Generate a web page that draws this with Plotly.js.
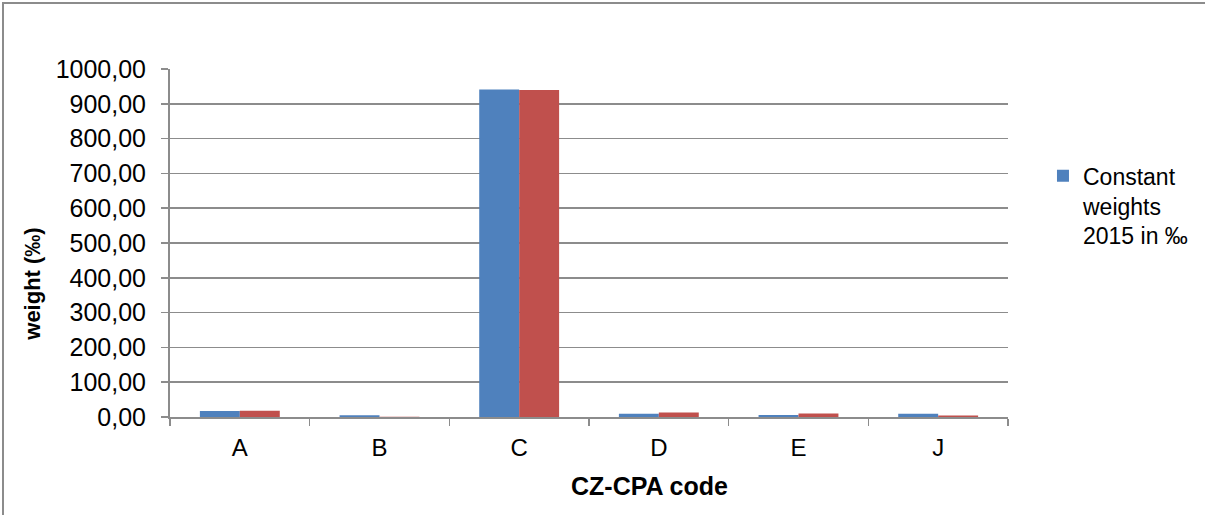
<!DOCTYPE html>
<html>
<head>
<meta charset="utf-8">
<script src="https://cdn.plot.ly/plotly-3.0.1.min.js"></script>
<style>
  html, body { margin: 0; padding: 0; width: 1205px; height: 515px; overflow: hidden; background: #fff; }
  #topline { position: absolute; left: 2px; top: 2px; width: 1250px; height: 2px; background: #8c8c8c; }
  #leftline { position: absolute; left: 2px; top: 2px; width: 2px; height: 560px; background: #8c8c8c; }
  #chart { position: absolute; left: 0; top: 0; width: 1205px; height: 515px; }
</style>
</head>
<body>
<div id="topline"></div>
<div id="leftline"></div>
<div id="chart"></div>
<script>
// Data
const categories = ["A", "B", "C", "D", "E", "J"];
const constantWeights2015 = [17, 5, 941, 9, 6, 9];
const secondSeries = [18, 1, 940, 13, 10, 4];
const seriesName = "Constant<br>weights<br>2015 in ‰";
const yTickValues = [0, 100, 200, 300, 400, 500, 600, 700, 800, 900, 1000];
const xTitle = "CZ-CPA code";
const yTitle = "weight (‰)";

const fontFamily = "Liberation Sans, Arial, sans-serif";
const gridColor = "#8c8c8c";

const traces = [
  {
    type: "bar",
    x: categories,
    y: constantWeights2015,
    name: seriesName,
    marker: { color: "#4F81BD", line: { width: 0 } },
    showlegend: true,
    hoverinfo: "x+y"
  },
  {
    type: "bar",
    x: categories,
    y: secondSeries,
    name: "",
    marker: { color: "#C0504D", line: { width: 0 } },
    showlegend: false,
    hoverinfo: "x+y"
  }
];

const layout = {
  width: 1205,
  height: 515,
  margin: { l: 170, r: 196, t: 69, b: 98, pad: 0 },
  paper_bgcolor: "rgba(0,0,0,0)",
  plot_bgcolor: "rgba(0,0,0,0)",
  separators: ", ",
  font: { family: fontFamily, size: 22, color: "#000" },
  barmode: "group",
  bargap: 0.428,
  bargroupgap: 0,
  showlegend: true,
  legend: {
    x: 1.0405,
    xanchor: "left",
    y: 0.755,
    yanchor: "top",
    valign: "top",
    font: { family: fontFamily, size: 23, color: "#000" },
    bgcolor: "rgba(0,0,0,0)",
    borderwidth: 0
  },
  xaxis: {
    type: "category",
    tickson: "boundaries",
    ticks: "outside",
    ticklen: 7,
    tickwidth: 1.5,
    tickcolor: gridColor,
    ticklabelstandoff: 8,
    showline: true,
    linecolor: gridColor,
    linewidth: 2,
    showgrid: false,
    zeroline: false,
    tickfont: { family: fontFamily, size: 24, color: "#000" }
  },
  yaxis: {
    range: [0, 1000],
    tickvals: yTickValues,
    tickformat: ".2f",
    ticks: "outside",
    ticklen: 7,
    tickwidth: 1.5,
    tickcolor: gridColor,
    ticklabelstandoff: 10,
    showline: true,
    linecolor: gridColor,
    linewidth: 2,
    showgrid: true,
    gridcolor: gridColor,
    gridwidth: 1.5,
    zeroline: false,
    tickfont: { family: fontFamily, size: 25, color: "#000" }
  },
  annotations: [
    {
      text: "<b>" + xTitle + "</b>",
      xref: "paper", yref: "paper",
      x: 0.572, y: -0.1996,
      xanchor: "center", yanchor: "middle",
      showarrow: false,
      font: { family: fontFamily, size: 25, color: "#000" }
    },
    {
      text: "<b>" + yTitle + "</b>",
      xref: "paper", yref: "paper",
      x: -0.1645, y: 0.3805,
      xanchor: "center", yanchor: "middle",
      textangle: -90,
      showarrow: false,
      font: { family: fontFamily, size: 22, color: "#000" }
    }
  ]
};

Plotly.newPlot("chart", traces, layout, { displayModeBar: false, staticPlot: true });
</script>
</body>
</html>
